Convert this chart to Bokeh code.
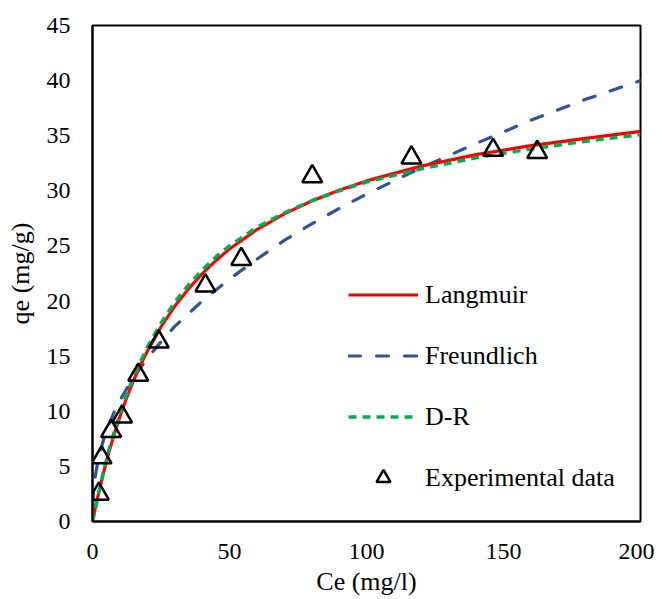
from bokeh.plotting import figure
from bokeh.models import Legend, LegendItem, FixedTicker, Range1d
from bokeh.embed import file_html
from bokeh.resources import INLINE

# Experimental data
ce_exp = [2.3, 3.3, 6.8, 10.8, 16.7, 24.2, 41.2, 54.3, 80.2, 116.4, 146.2, 162.3]
qe_exp = [2.5, 5.8, 8.2, 9.5, 13.3, 16.3, 21.4, 23.8, 31.3, 33.0, 33.7, 33.5]

# Model curves
ce_model = [0, 1, 2, 4, 6, 8, 10, 12.5, 15, 17.5, 20, 25, 30, 35, 40, 45, 50, 60, 70, 80, 90, 100,
            120, 140, 160, 180, 200]
qe_langmuir = [0, 1.2, 2.33, 4.41, 6.28, 7.97, 9.51, 11.25, 12.79, 14.18, 15.45, 17.66, 19.52, 21.1,
               22.47, 23.66, 24.72, 26.49, 27.91, 29.08, 30.06, 30.9, 32.24, 33.28, 34.1, 34.76, 35.4]
qe_dr = [0, 1.1, 2.3, 4.5, 6.5, 8.2, 9.8, 11.6, 13.1, 14.5, 15.8, 18.0, 19.9, 21.45,
         22.8, 24.0, 25.0, 26.7, 28.0, 29.1, 30.0, 30.8, 32.0, 33.0, 33.8, 34.5, 35.1]
ce_freund = [0.1, 0.5, 1, 2, 4, 6, 8, 10, 15, 20, 25, 30, 40, 50, 60, 70, 80, 90, 100, 120, 140, 160,
             180, 200]
qe_freund = [1.5, 3.0, 4.1, 5.5, 7.4, 8.8, 10.0, 11.0, 13.1, 14.8, 16.3, 17.7, 20.0, 22.0, 23.8, 25.5,
             27.0, 28.4, 29.7, 32.1, 34.3, 36.4, 38.3, 40.0]

x_ticks = [0, 50, 100, 150, 200]
y_ticks = [0, 5, 10, 15, 20, 25, 30, 35, 40, 45]

FONT = "Liberation Serif"

p = figure(width=654, height=599, output_backend="svg", toolbar_location=None,
           x_range=Range1d(0, 200), y_range=Range1d(0, 45),
           min_border_left=92, min_border_right=14, min_border_top=25, min_border_bottom=78)

p.grid.visible = False
p.background_fill_color = "white"
p.border_fill_color = "white"
p.outline_line_color = "black"
p.outline_line_width = 2
p.outline_line_alpha = 1

for ax in (p.xaxis[0], p.yaxis[0]):
    ax.axis_line_color = "black"
    ax.axis_line_width = 2
    ax.major_tick_in = 0
    ax.major_tick_out = 0
    ax.minor_tick_in = 0
    ax.minor_tick_out = 0
    ax.major_label_text_font = FONT
    ax.major_label_text_font_size = "24px"
    ax.major_label_text_color = "#000000"
    ax.axis_label_text_font = FONT
    ax.axis_label_text_font_size = "26px"
    ax.axis_label_text_font_style = "normal"
    ax.axis_label_text_color = "#000000"

p.xaxis.ticker = FixedTicker(ticks=x_ticks)
p.yaxis.ticker = FixedTicker(ticks=y_ticks)
p.xaxis.axis_label = "Ce (mg/l)"
p.yaxis.axis_label = "qe (mg/g)"
p.xaxis.major_label_standoff = 22
p.yaxis.major_label_standoff = 22
p.xaxis.axis_label_standoff = 5
p.yaxis.axis_label_standoff = 9

r_fr = p.line(ce_freund, qe_freund, line_color="#2F5597", line_width=3.2,
              line_dash="12 16", line_cap="round")
r_la = p.line(ce_model, qe_langmuir, line_color="#FF0000", line_width=3.2)
r_dr = p.line(ce_model, qe_dr, line_color="#00B050", line_width=3.5, line_dash="8 6")
r_ex = p.scatter(ce_exp, qe_exp, marker="triangle", size=20, line_color="black",
                 line_width=2.5, fill_color=None)

legend = Legend(items=[
    LegendItem(label="Langmuir", renderers=[r_la]),
    LegendItem(label="Freundlich", renderers=[r_fr]),
    LegendItem(label="D-R", renderers=[r_dr]),
    LegendItem(label="Experimental data", renderers=[r_ex]),
], location=(256, 26))
legend.background_fill_alpha = 0
legend.border_line_color = None
legend.padding = 0
legend.margin = 0
legend.glyph_width = 70
legend.glyph_height = 35
legend.label_height = 20
legend.spacing = 26
legend.label_standoff = 7
legend.label_text_font = FONT
legend.label_text_font_size = "26px"
legend.label_text_color = "#000000"
p.add_layout(legend, "center")

open("out.html", "w").write(file_html(p, INLINE))
